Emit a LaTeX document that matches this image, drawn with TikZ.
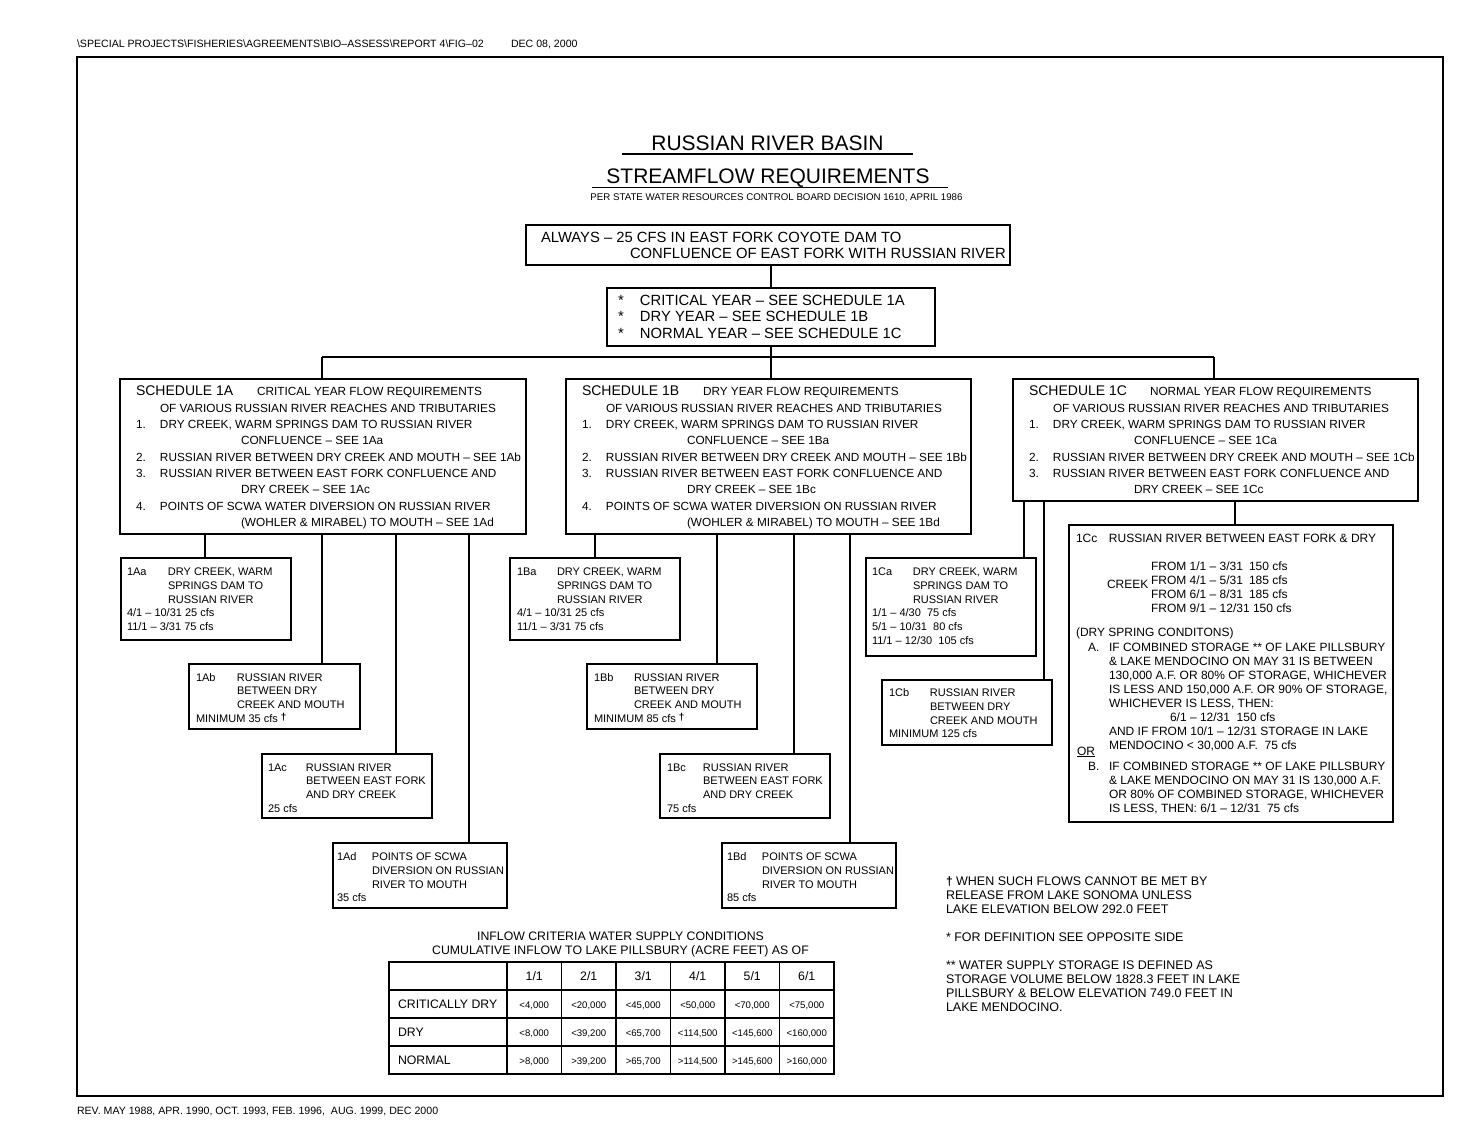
\documentclass[tikz,border=0pt]{standalone}
\usepackage{fontspec}
\setmainfont{Liberation Sans}
\newcommand{\FS}[2]{\fontsize{#1}{#2}\selectfont}
\newcommand{\Lns}[1]{\begin{tabular}[t]{@{}l@{}}#1\end{tabular}}
\newcommand{\Ctr}[1]{\begin{tabular}[t]{@{}c@{}}#1\end{tabular}}
\newcommand{\fHd}{\FS{10.6}{12}}
\newcommand{\fTi}{\FS{21}{24}}
\newcommand{\fSu}{\FS{9.7}{11}}
\newcommand{\fTo}{\FS{14.8}{16.4}}
\newcommand{\fSc}{\FS{11.8}{16.3}}
\newcommand{\fSt}{\FS{14}{16.3}}
\newcommand{\fBx}{\FS{11}{13.8}}
\newcommand{\fCc}{\FS{12}{14}}
\newcommand{\fNt}{\FS{12.5}{14}}
\newcommand{\fTl}{\FS{12.3}{14}}
\newcommand{\fTn}{\FS{9.6}{11}}
\newcommand{\dgr}{{\FS{10}{10}\bfseries\raisebox{2pt}{†}}}
\newcommand{\mkL}[2]{\makebox[#1pt][l]{#2}}
\newcommand{\ind}[1]{\hspace*{#1pt}}
\newcommand{\trow}[9]{%
  \node[txt] (#1l) at (398,#2) {\fTl #3};
  \node[ctxt] (#1a) at (534.25,#2) {\fTn #4};
  \node[ctxt] (#1b) at (588.75,#2) {\fTn #5};
  \node[ctxt] (#1c) at (643.25,#2) {\fTn #6};
  \node[ctxt] (#1d) at (697.75,#2) {\fTn #7};
  \node[ctxt] (#1e) at (752.25,#2) {\fTn #8};
  \node[ctxt] (#1f) at (806.75,#2) {\fTn #9};
}
\tikzset{
  box/.style={draw, line width=1.1pt, anchor=north west, inner sep=0pt, outer sep=0pt},
  txt/.style={anchor=base west, inner sep=0pt, outer sep=0pt},
  ctxt/.style={anchor=base, inner sep=0pt, outer sep=0pt},
  wire/.style={line width=1.1pt},
}
\begin{document}
\begin{tikzpicture}[x=1pt,y=-1pt]
\useasboundingbox (0,0) rectangle (1468,1139);
\fill[white] (0,0) rectangle (1468,1139);

% header / footer / frame
\node[txt] (hdr) at (77,48) {\fHd \textbackslash SPECIAL PROJECTS\textbackslash FISHERIES\textbackslash AGREEMENTS\textbackslash BIO–ASSESS\textbackslash REPORT 4\textbackslash FIG–02};
\node[txt] (hdate) at (511,48) {\fHd DEC 08, 2000};
\node[txt] (ftr) at (77,1114) {\fHd REV. MAY 1988, APR. 1990, OCT. 1993, FEB. 1996, \ AUG. 1999, DEC 2000};
\draw[wire] (77,57) rectangle (1443,1096);

% titles
\node[ctxt] (title1) at (767.5,150.5) {\fTi RUSSIAN RIVER BASIN};
\draw[line width=1.2pt] (622,154) -- (913,154);
\node[ctxt] (title2) at (768,183.5) {\fTi STREAMFLOW REQUIREMENTS};
\draw[line width=1.2pt] (592,187.5) -- (948,187.5);
\node[ctxt] (subt) at (776.5,200.5) {\fSu PER STATE WATER RESOURCES CONTROL BOARD DECISION 1610, APRIL 1986};

% top boxes
\node[box, minimum width=484, minimum height=40] (always) at (526,225) {};
\node[txt] (talways) at (541,242.5) {\fTo\Lns{ALWAYS – 25 CFS IN EAST FORK COYOTE DAM TO\\
\ind{89}CONFLUENCE OF EAST FORK WITH RUSSIAN RIVER}};
\node[box, minimum width=328, minimum height=58] (list) at (607,288) {};
\node[txt] (tlist) at (618,305.5) {\fTo\Lns{\mkL{22}{*}CRITICAL YEAR – SEE SCHEDULE 1A\\
\mkL{22}{*}DRY YEAR – SEE SCHEDULE 1B\\
\mkL{22}{*}NORMAL YEAR – SEE SCHEDULE 1C}};

% schedule boxes
\node[box, minimum width=406, minimum height=155] (s1A) at (120,379) {};
\node[box, minimum width=405, minimum height=155] (s1B) at (566,379) {};
\node[box, minimum width=405, minimum height=122] (s1C) at (1013,379) {};

\node[txt] (t1A) at (136,396) {\fSc\Lns{%
\mkL{121}{\fSt SCHEDULE 1A}CRITICAL YEAR FLOW REQUIREMENTS\\
\ind{24}OF VARIOUS RUSSIAN RIVER REACHES AND TRIBUTARIES\\
\mkL{24}{1.}DRY CREEK, WARM SPRINGS DAM TO RUSSIAN RIVER\\
\ind{105}CONFLUENCE – SEE 1Aa\\
\mkL{24}{2.}RUSSIAN RIVER BETWEEN DRY CREEK AND MOUTH – SEE 1Ab\\
\mkL{24}{3.}RUSSIAN RIVER BETWEEN EAST FORK CONFLUENCE AND\\
\ind{105}DRY CREEK – SEE 1Ac\\
\mkL{24}{4.}POINTS OF SCWA WATER DIVERSION ON RUSSIAN RIVER\\
\ind{105}(WOHLER \& MIRABEL) TO MOUTH – SEE 1Ad}};

\node[txt] (t1B) at (582,396) {\fSc\Lns{%
\mkL{121}{\fSt SCHEDULE 1B}DRY YEAR FLOW REQUIREMENTS\\
\ind{24}OF VARIOUS RUSSIAN RIVER REACHES AND TRIBUTARIES\\
\mkL{24}{1.}DRY CREEK, WARM SPRINGS DAM TO RUSSIAN RIVER\\
\ind{105}CONFLUENCE – SEE 1Ba\\
\mkL{24}{2.}RUSSIAN RIVER BETWEEN DRY CREEK AND MOUTH – SEE 1Bb\\
\mkL{24}{3.}RUSSIAN RIVER BETWEEN EAST FORK CONFLUENCE AND\\
\ind{105}DRY CREEK – SEE 1Bc\\
\mkL{24}{4.}POINTS OF SCWA WATER DIVERSION ON RUSSIAN RIVER\\
\ind{105}(WOHLER \& MIRABEL) TO MOUTH – SEE 1Bd}};

\node[txt] (t1C) at (1029,396) {\fSc\Lns{%
\mkL{121}{\fSt SCHEDULE 1C}NORMAL YEAR FLOW REQUIREMENTS\\
\ind{24}OF VARIOUS RUSSIAN RIVER REACHES AND TRIBUTARIES\\
\mkL{24}{1.}DRY CREEK, WARM SPRINGS DAM TO RUSSIAN RIVER\\
\ind{105}CONFLUENCE – SEE 1Ca\\
\mkL{24}{2.}RUSSIAN RIVER BETWEEN DRY CREEK AND MOUTH – SEE 1Cb\\
\mkL{24}{3.}RUSSIAN RIVER BETWEEN EAST FORK CONFLUENCE AND\\
\ind{105}DRY CREEK – SEE 1Cc}};

% top connectors
\coordinate (barL) at (322,357);
\coordinate (barR) at (1214,357);
\draw[wire] (771,0 |- always.south) -- (list.north -| 771,0);
\draw[wire] (771,0 |- list.south) -- (771,0 |- barL);
\draw[wire] (barL) -- (barR);
\draw[wire] (barL) -- (barL |- s1A.north);
\draw[wire] (771,357) -- (771,0 |- s1B.north);
\draw[wire] (barR) -- (barR |- s1C.north);

% sub boxes 1A
\node[box, minimum width=170, minimum height=82] (a1Aa) at (121,558) {};
\node[box, minimum width=171, minimum height=65] (a1Ab) at (189,664) {};
\node[box, minimum width=170, minimum height=64] (a1Ac) at (262,754) {};
\node[box, minimum width=174, minimum height=65] (a1Ad) at (333,843) {};
\node[txt] (t1Aa) at (127,575.5) {\fBx\Lns{\mkL{41}{1Aa}DRY CREEK, WARM\\ \ind{41}SPRINGS DAM TO\\ \ind{41}RUSSIAN RIVER\\ 4/1 – 10/31 25 cfs\\ 11/1 – 3/31 75 cfs}};
\node[txt] (t1Ab) at (196,681) {\fBx\Lns{\mkL{41}{1Ab}RUSSIAN RIVER\\ \ind{41}BETWEEN DRY\\ \ind{41}CREEK AND MOUTH\\ MINIMUM 35 cfs \dgr}};
\node[txt] (t1Ac) at (268,771) {\fBx\Lns{\mkL{38}{1Ac}RUSSIAN RIVER\\ \ind{38}BETWEEN EAST FORK\\ \ind{38}AND DRY CREEK\\ 25 cfs}};
\node[txt] (t1Ad) at (337,860.5) {\fBx\Lns{\mkL{35}{1Ad}POINTS OF SCWA\\ \ind{35}DIVERSION ON RUSSIAN\\ \ind{35}RIVER TO MOUTH\\ 35 cfs}};
\draw[wire] (205,0 |- s1A.south) -- (205,0 |- a1Aa.north);
\draw[wire] (322,0 |- s1A.south) -- (322,0 |- a1Ab.north);
\draw[wire] (396,0 |- s1A.south) -- (396,0 |- a1Ac.north);
\draw[wire] (469,0 |- s1A.south) -- (469,0 |- a1Ad.north);

% sub boxes 1B
\node[box, minimum width=170, minimum height=82] (b1Ba) at (510,558) {};
\node[box, minimum width=170, minimum height=65] (b1Bb) at (587,664) {};
\node[box, minimum width=170, minimum height=64] (b1Bc) at (660,754) {};
\node[box, minimum width=174, minimum height=65] (b1Bd) at (722,843) {};
\node[txt] (t1Ba) at (517,575.5) {\fBx\Lns{\mkL{40}{1Ba}DRY CREEK, WARM\\ \ind{40}SPRINGS DAM TO\\ \ind{40}RUSSIAN RIVER\\ 4/1 – 10/31 25 cfs\\ 11/1 – 3/31 75 cfs}};
\node[txt] (t1Bb) at (594,681) {\fBx\Lns{\mkL{40}{1Bb}RUSSIAN RIVER\\ \ind{40}BETWEEN DRY\\ \ind{40}CREEK AND MOUTH\\ MINIMUM 85 cfs \dgr}};
\node[txt] (t1Bc) at (667,771) {\fBx\Lns{\mkL{36}{1Bc}RUSSIAN RIVER\\ \ind{36}BETWEEN EAST FORK\\ \ind{36}AND DRY CREEK\\ 75 cfs}};
\node[txt] (t1Bd) at (727,860.5) {\fBx\Lns{\mkL{35}{1Bd}POINTS OF SCWA\\ \ind{35}DIVERSION ON RUSSIAN\\ \ind{35}RIVER TO MOUTH\\ 85 cfs}};
\draw[wire] (595,0 |- s1B.south) -- (595,0 |- b1Ba.north);
\draw[wire] (717,0 |- s1B.south) -- (717,0 |- b1Bb.north);
\draw[wire] (794,0 |- s1B.south) -- (794,0 |- b1Bc.north);
\draw[wire] (850,0 |- s1B.south) -- (850,0 |- b1Bd.north);

% sub boxes 1C
\node[box, minimum width=170, minimum height=98] (c1Ca) at (866,558) {};
\node[box, minimum width=170, minimum height=65] (c1Cb) at (882,680) {};
\node[box, minimum width=324, minimum height=297] (c1Cc) at (1069,525) {};
\node[txt] (t1Ca) at (872,575.5) {\fBx\Lns{\mkL{41}{1Ca}DRY CREEK, WARM\\ \ind{41}SPRINGS DAM TO\\ \ind{41}RUSSIAN RIVER\\ 1/1 – 4/30 \ 75 cfs\\ 5/1 – 10/31 \ 80 cfs\\ 11/1 – 12/30 \ 105 cfs}};
\node[txt] (t1Cb) at (889,696.5) {\fBx\Lns{\mkL{41}{1Cb}RUSSIAN RIVER\\ \ind{41}BETWEEN DRY\\ \ind{41}CREEK AND MOUTH\\ MINIMUM 125 cfs}};
\draw[wire] (1024,0 |- s1C.south) -- (1024,0 |- c1Ca.north);
\draw[wire] (1044,0 |- s1C.south) -- (1044,0 |- c1Cb.north);
\draw[wire] (1235,0 |- s1C.south) -- (1235,0 |- c1Cc.north);

% 1Cc content
\node[txt] (cc1) at (1076,542) {\fCc\mkL{33}{1Cc}RUSSIAN RIVER BETWEEN EAST FORK \& DRY};
\node[txt] (cc2) at (1151,570.5) {\fCc\Lns{\mkL{98}{FROM 1/1 – 3/31}150 cfs\\ \mkL{98}{FROM 4/1 – 5/31}185 cfs\\ \mkL{98}{FROM 6/1 – 8/31}185 cfs\\ FROM 9/1 – 12/31 150 cfs}};
\node[txt] (ccreek) at (1107,588) {\fCc CREEK};
\node[txt] (cc3) at (1076,636.5) {\fCc (DRY SPRING CONDITONS)};
\node[txt] (ccA) at (1088,651) {\fCc\Lns{\mkL{21}{A.}IF COMBINED STORAGE ** OF LAKE PILLSBURY\\
\ind{21}\& LAKE MENDOCINO ON MAY 31 IS BETWEEN\\
\ind{21}130,000 A.F. OR 80\% OF STORAGE, WHICHEVER\\
\ind{21}IS LESS AND 150,000 A.F. OR 90\% OF STORAGE,\\
\ind{21}WHICHEVER IS LESS, THEN:\\
\ind{82}6/1 – 12/31 \ 150 cfs\\
\ind{21}AND IF FROM 10/1 – 12/31 STORAGE IN LAKE\\
\ind{21}MENDOCINO < 30,000 A.F. \ 75 cfs}};
\node[txt] (ccOR) at (1077,755) {\fCc\underline{OR}};
\node[txt] (ccB) at (1088,770) {\fCc\Lns{\mkL{21}{B.}IF COMBINED STORAGE ** OF LAKE PILLSBURY\\
\ind{21}\& LAKE MENDOCINO ON MAY 31 IS 130,000 A.F.\\
\ind{21}OR 80\% OF COMBINED STORAGE, WHICHEVER\\
\ind{21}IS LESS, THEN: 6/1 – 12/31 \ 75 cfs}};

% notes
\node[txt] (n1) at (946,885.5) {\fNt\Lns{{\FS{12}{12}\bfseries †}\ WHEN SUCH FLOWS CANNOT BE MET BY\\ RELEASE FROM LAKE SONOMA UNLESS\\ LAKE ELEVATION BELOW 292.0 FEET}};
\node[txt] (n2) at (946,941.5) {\fNt * FOR DEFINITION SEE OPPOSITE SIDE};
\node[txt] (n3) at (946,969.5) {\fNt\Lns{** WATER SUPPLY STORAGE IS DEFINED AS\\ STORAGE VOLUME BELOW 1828.3 FEET IN LAKE\\ PILLSBURY \& BELOW ELEVATION 749.0 FEET IN\\ LAKE MENDOCINO.}};

% table
\node[ctxt] (ttitle) at (620.5,940.5) {\fTl\Ctr{INFLOW CRITERIA WATER SUPPLY CONDITIONS\\ CUMULATIVE INFLOW TO LAKE PILLSBURY (ACRE FEET) AS OF}};
\draw[wire] (389,962) rectangle (834,1074);
\foreach \yy in {990,1018,1046} \draw[wire] (389,\yy) -- (834,\yy);
\foreach \xx in {507,561.5,616,670.5,725,779.5} \draw[wire] (\xx,962) -- (\xx,1074);
\node[ctxt] (h1) at (534.25,980.5) {\fTl 1/1};
\node[ctxt] (h2) at (588.75,980.5) {\fTl 2/1};
\node[ctxt] (h3) at (643.25,980.5) {\fTl 3/1};
\node[ctxt] (h4) at (697.75,980.5) {\fTl 4/1};
\node[ctxt] (h5) at (752.25,980.5) {\fTl 5/1};
\node[ctxt] (h6) at (806.75,980.5) {\fTl 6/1};
\trow{rc}{1008}{CRITICALLY DRY}{<4,000}{<20,000}{<45,000}{<50,000}{<70,000}{<75,000}
\trow{rd}{1036}{DRY}{<8,000}{<39,200}{<65,700}{<114,500}{<145,600}{<160,000}
\trow{rn}{1064}{NORMAL}{>8,000}{>39,200}{>65,700}{>114,500}{>145,600}{>160,000}
\end{tikzpicture}
\end{document}
